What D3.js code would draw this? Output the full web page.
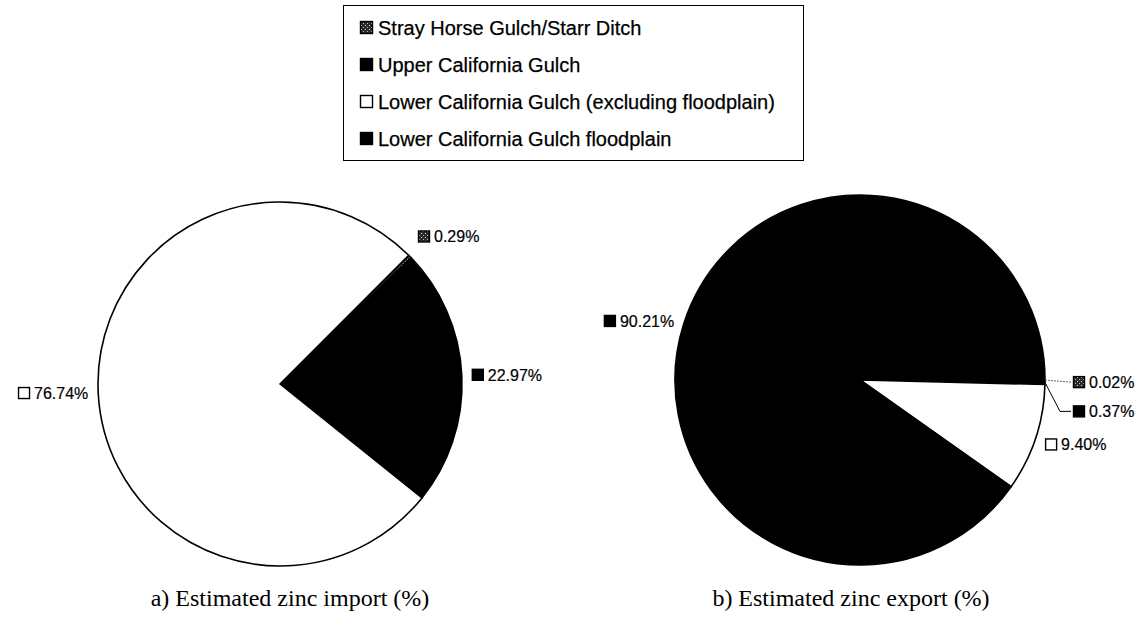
<!DOCTYPE html>
<html>
<head>
<meta charset="utf-8">
<script src="https://cdn.jsdelivr.net/npm/d3@7"></script>
<style>
  html, body { margin: 0; padding: 0; background: #fff; }
  svg { display: block; }
</style>
</head>
<body>
<svg id="chart" width="1147" height="626"></svg>
<script>
// ---- data ----
const categories = [
  "Stray Horse Gulch/Starr Ditch",
  "Upper California Gulch",
  "Lower California Gulch (excluding floodplain)",
  "Lower California Gulch floodplain"
];
const importValues = [0.29, 22.97, 76.74, 0];
const exportValues = [0.02, 0.37, 9.40, 90.21];
const importLabels = ["0.29%", "22.97%", "76.74%", ""];
const exportLabels = ["0.02%", "0.37%", "9.40%", "90.21%"];
const captions = ["a) Estimated zinc import (%)", "b) Estimated zinc export (%)"];

// ---- setup ----
const svg = d3.select("#chart");
const defs = svg.append("defs");
const pat = defs.append("pattern").attr("id", "stray")
  .attr("patternUnits", "userSpaceOnUse").attr("width", 4).attr("height", 4);
pat.append("rect").attr("width", 4).attr("height", 4).attr("fill", "#2a2a2a");
pat.append("rect").attr("x", 1).attr("y", 1).attr("width", 1).attr("height", 1).attr("fill", "#ddd");
pat.append("rect").attr("x", 3).attr("y", 3).attr("width", 1).attr("height", 1).attr("fill", "#bbb");

const fillScale = d3.scaleOrdinal()
  .domain(categories)
  .range(["url(#stray)", "#000", "#fff", "#000"]);

const sans = "'Liberation Sans', Arial, Helvetica, sans-serif";
const serif = "'Liberation Serif', 'Times New Roman', serif";
const deg = Math.PI / 180;

// ---- legend ----
const legend = svg.append("g");
legend.append("rect")
  .attr("x", 343.5).attr("y", 5.5).attr("width", 460).attr("height", 155)
  .attr("fill", "#fff").attr("stroke", "#000").attr("stroke-width", 1);
const legendY = d3.scalePoint().domain(categories).range([28, 139]);
categories.forEach(c => {
  const y = legendY(c);
  legend.append("rect")
    .attr("x", 360.5).attr("y", y - 6.5).attr("width", 12).attr("height", 12)
    .attr("fill", fillScale(c)).attr("stroke", "#000").attr("stroke-width", 1.4);
  legend.append("text")
    .attr("x", 378).attr("y", y).attr("dy", "0.36em")
    .attr("font-family", sans).attr("font-size", 20).attr("fill", "#000")
    .attr("stroke", "#000").attr("stroke-width", 0.25)
    .text(c);
});

// ---- pies ----
function drawPie(values, labels, cx, cy, r, startDeg, caption, capX, special) {
  const g = svg.append("g").attr("transform", `translate(${cx},${cy})`);
  const pie = d3.pie().sort(null).value(d => d.v)
    .startAngle(startDeg * deg).endAngle(startDeg * deg + 2 * Math.PI);
  const data = categories.map((c, i) => ({ c, v: values[i], label: labels[i], i }));
  const arcs = pie(data);
  const arc = d3.arc().innerRadius(0).outerRadius(r);

  g.selectAll("path.slice").data(arcs.filter(a => a.data.v > 0)).join("path")
    .attr("class", "slice")
    .attr("d", arc)
    .attr("fill", d => fillScale(d.data.c))
    .attr("stroke", "#000").attr("stroke-width", 1.6).attr("stroke-linejoin", "round");

  arcs.forEach(a => {
    if (!a.data.label) return;
    const mid = (a.startAngle + a.endAngle) / 2;
    const sx = Math.sin(mid), cyv = -Math.cos(mid);
    let lx, ly, anchor;
    const sp = special && special[a.data.i];
    if (sp) {
      const ex = r * sx, ey = r * cyv;
      lx = ex + sp.dx; ly = ey + sp.dy; anchor = "start";
      const pts = sp.bend
        ? [[ex, ey], [ex + sp.bend, ly], [lx - 2, ly]]
        : [[ex, ey], [lx - 2, ly]];
      g.append("path").attr("d", d3.line()(pts))
        .attr("fill", "none").attr("stroke", sp.color || "#000")
        .attr("stroke-width", 1).attr("stroke-dasharray", sp.dash || null);
    } else {
      const rr = r + 10;
      lx = rr * sx; ly = rr * cyv + cyv * 10;
      anchor = sx >= 0 ? "start" : "end";
    }
    if (special && special.nudge && special.nudge[a.data.i]) {
      ly += special.nudge[a.data.i][1]; lx += special.nudge[a.data.i][0];
    }
    const lg = g.append("g");
    const txt = lg.append("text")
      .attr("font-family", sans).attr("font-size", 16).attr("fill", "#000")
      .attr("stroke", "#000").attr("stroke-width", 0.2)
      .attr("dy", "0.36em").text(a.data.label);
    const tw = txt.node().getComputedTextLength();
    const boxX = anchor === "start" ? lx : lx - tw - 16;
    lg.append("rect")
      .attr("x", boxX + 0.5).attr("y", ly - 5.5).attr("width", 11).attr("height", 11)
      .attr("fill", fillScale(a.data.c)).attr("stroke", "#000").attr("stroke-width", 1.4);
    txt.attr("x", boxX + 16).attr("y", ly);
  });

  svg.append("text")
    .attr("x", capX).attr("y", 606).attr("text-anchor", "middle")
    .attr("font-family", serif).attr("font-size", 24).attr("fill", "#000")
    .text(caption);
}

drawPie(importValues, importLabels, 280, 384, 182, 45, captions[0], 290,
  { nudge: { 0: [1, -6], 2: [0, -2] } });

drawPie(exportValues, exportLabels, 860, 380, 185, 90, captions[1], 851,
  {
    0: { dx: 28, dy: 2, color: "#666", dash: "2,1" },
    1: { dx: 28, dy: 29, bend: 15 },
    nudge: { 3: [0, 3] }
  });
</script>
</body>
</html>
